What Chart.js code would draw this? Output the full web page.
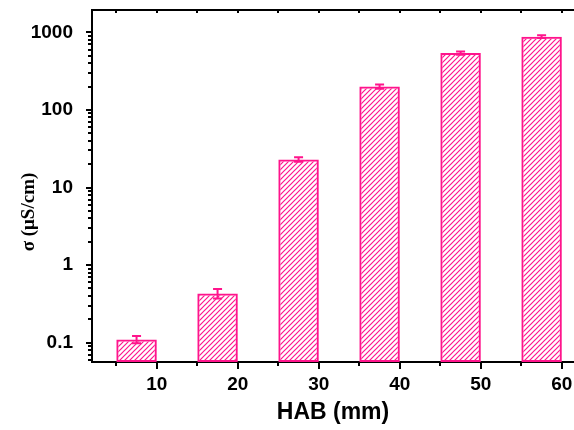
<!DOCTYPE html>
<html>
<head>
<meta charset="utf-8">
<script src="https://cdn.jsdelivr.net/npm/chart.js@4"></script>
<style>
  html, body { margin: 0; padding: 0; background: #fff; }
  #wrap { width: 574px; height: 430px; }
</style>
</head>
<body>
<div id="wrap"><canvas id="barChart"></canvas></div>
<script>
// HAB positions (mm) and measured conductivity
var hab = [10, 20, 30, 40, 50, 60];
var sigma = [0.11, 0.43, 23, 200, 540, 880];
var sigmaErr = [0.012, 0.06, 1.5, 12, 25, 35];
var xTickLabels = [10, 20, 30, 40, 50, 60];
var yTickLabels = [0.1, 1, 10, 100, 1000];

var pink = '#ff148c';
var barShift = 2.5; // bars sit just left of their HAB tick in the original

function hatch() {
    var c = document.createElement('canvas');
    c.width = 5;
    c.height = 5;
    var g = c.getContext('2d');
    g.strokeStyle = pink;
    g.lineWidth = 1.2;
    g.beginPath();
    g.moveTo(-1, 6); g.lineTo(6, -1);
    g.moveTo(-1, 1); g.lineTo(1, -1);
    g.moveTo(4, 6); g.lineTo(6, 4);
    g.stroke();
    return g.createPattern(c, 'repeat');
}

var frame = {
    id: 'frame',
    afterDatasetsDraw: function(chart) {
        var c = chart.ctx;
        var ys = chart.scales.y;
        var meta = chart.getDatasetMeta(0);

        // error bars
        c.save();
        c.strokeStyle = pink;
        c.lineWidth = 2;
        meta.data.forEach(function(bar, i) {
            var top = ys.getPixelForValue(sigma[i] + sigmaErr[i]);
            var bot = ys.getPixelForValue(sigma[i] - sigmaErr[i]);
            c.beginPath();
            c.moveTo(bar.x, top); c.lineTo(bar.x, bot);
            c.moveTo(bar.x - 4.5, top); c.lineTo(bar.x + 4.5, top);
            c.moveTo(bar.x - 4.5, bot); c.lineTo(bar.x + 4.5, bot);
            c.stroke();
        });
        c.restore();
    },
    afterDraw: function(chart) {
        var c = chart.ctx;
        var xs = chart.scales.x, ys = chart.scales.y;
        var a = chart.chartArea;
        c.save();
        c.fillStyle = '#000';
        // top frame line
        c.fillRect(a.left - 1, a.top - 1, a.right - a.left + 1, 2);

        // x ticks, major + minor, bottom and top
        for (var v = 5; v <= 60; v += 5) {
            var px = Math.round(xs.getPixelForValue(v));
            var len = v % 10 === 0 ? 7 : 4;
            c.fillRect(px - 1, a.bottom, 2, len);
            c.fillRect(px - 1, a.top, 2, 3);
        }
        // y ticks, log minor
        for (var d = -2; d <= 3; d++) {
            for (var m = 1; m <= 9; m++) {
                var val = m * Math.pow(10, d);
                if (val < ys.min || val > ys.max) continue;
                var py = Math.round(ys.getPixelForValue(val));
                var l = m === 1 ? 6 : 4;
                c.fillRect(a.left - l, py - 1, l, 2);
            }
        }

        // y axis title
        c.font = 'bold 19px "Liberation Serif", serif';
        c.translate(29, 212);
        c.rotate(-Math.PI / 2);
        c.textAlign = 'center';
        c.textBaseline = 'middle';
        c.fillText('σ (μS/cm)', 0, 0);
        c.restore();
    }
};

var ctx = document.getElementById('barChart').getContext('2d');
var myChart = new Chart(ctx, {
    type: 'bar',
    data: {
        datasets: [{
            data: hab.map(function(h, i) { return { x: h - barShift, y: sigma[i] }; }),
            backgroundColor: hatch(),
            borderColor: pink,
            borderWidth: 2,
            borderSkipped: false,
            barPercentage: 0.5,
            categoryPercentage: 1
        }]
    },
    options: {
        responsive: true,
        maintainAspectRatio: false,
        animation: false,
        layout: { padding: { top: 10, right: 0, left: 0, bottom: 0 } },
        plugins: {
            legend: { display: false },
            tooltip: { enabled: false }
        },
        scales: {
            x: {
                type: 'linear',
                offset: false,
                min: 2,
                max: 61.5,
                grid: { display: false, drawTicks: false },
                border: { color: '#000', width: 2 },
                afterBuildTicks: function(s) {
                    s.ticks = xTickLabels.map(function(v) { return { value: v }; });
                },
                afterFit: function(s) {
                    s.height = 68;
                    s.paddingLeft = 0; s.paddingRight = 0;
                },
                ticks: {
                    autoSkip: false,
                    maxRotation: 0,
                    padding: 11,
                    color: '#000',
                    font: { family: '"Liberation Sans", Arial, sans-serif', size: 19, weight: 'bold' }
                },
                title: {
                    display: true,
                    text: 'HAB (mm)',
                    color: '#000',
                    padding: { top: 3 },
                    font: { family: '"Liberation Sans", Arial, sans-serif', size: 23, weight: 'bold' }
                }
            },
            y: {
                type: 'logarithmic',
                min: 0.0563,
                max: 1942,
                grid: { display: false, drawTicks: false },
                border: { color: '#000', width: 2 },
                afterBuildTicks: function(s) {
                    s.ticks = yTickLabels.map(function(v) { return { value: v }; });
                },
                afterFit: function(s) {
                    s.width = 92;
                    s.paddingTop = 0; s.paddingBottom = 0;
                },
                ticks: {
                    autoSkip: false,
                    padding: 19,
                    color: '#000',
                    callback: function(v) { return String(v); },
                    font: { family: '"Liberation Sans", Arial, sans-serif', size: 19, weight: 'bold' }
                }
            }
        }
    },
    plugins: [frame]
});
</script>
</body>
</html>
